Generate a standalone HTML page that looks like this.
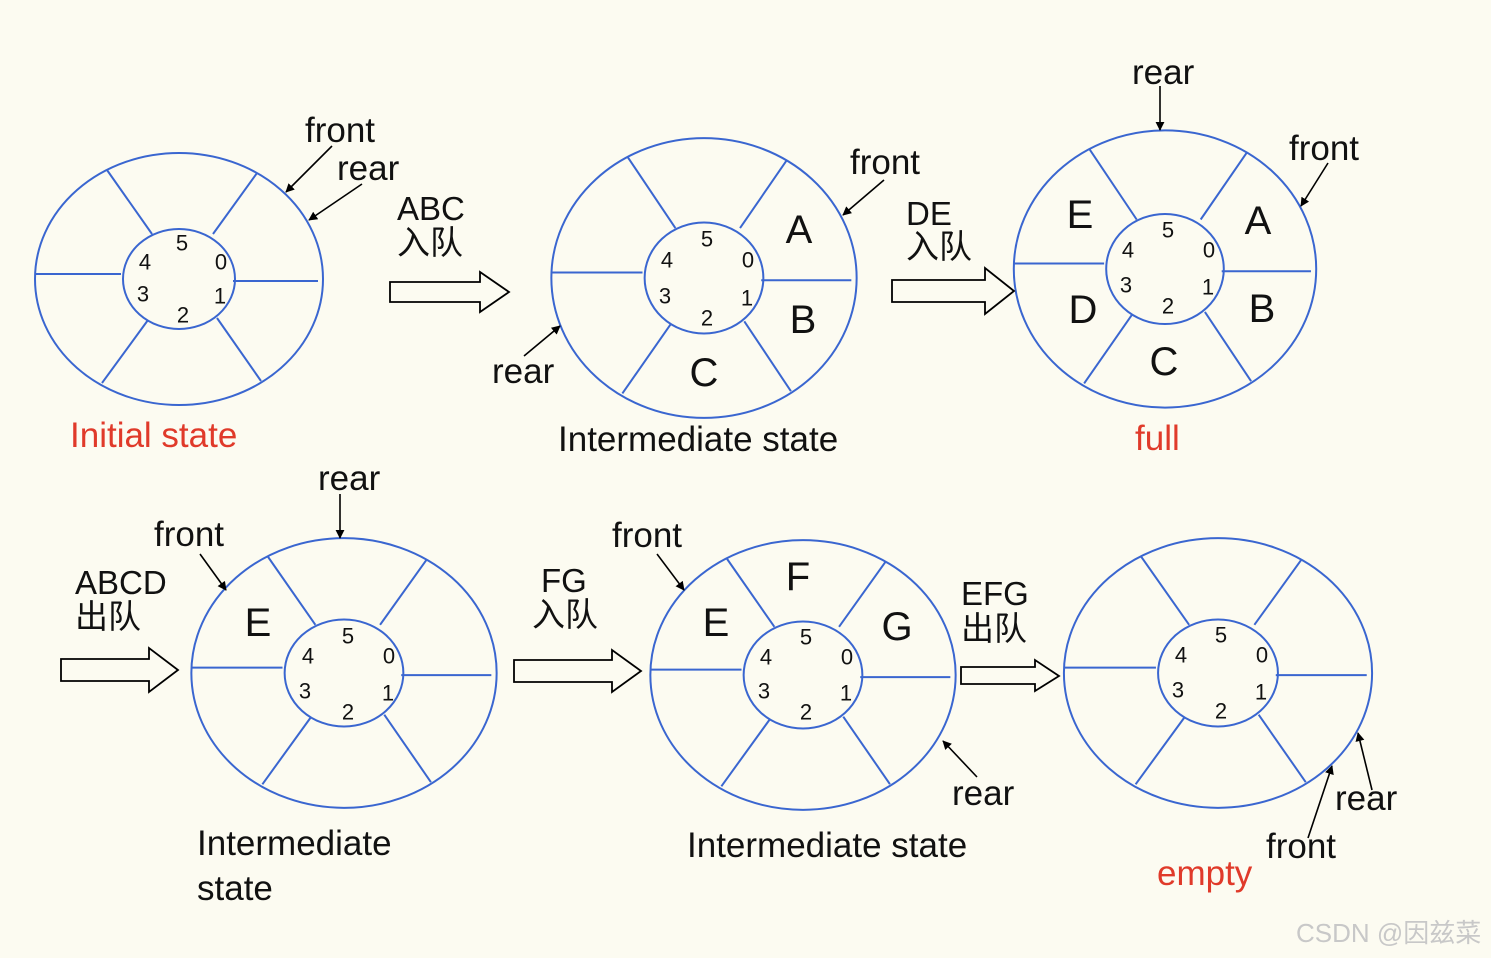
<!DOCTYPE html>
<html><head><meta charset="utf-8"><style>
html,body{margin:0;padding:0;background:#fcfbf1;}
svg{display:block;}
text{font-family:"Liberation Sans","Noto Sans CJK SC",sans-serif;fill:#111;}
.n{font-size:22px;text-anchor:middle;dominant-baseline:central;}
.L{font-size:40px;text-anchor:middle;dominant-baseline:central;}
.t{font-size:35px;}
.c{font-size:33px;}
.red{fill:#e03a2a;}
</style></head><body>
<svg width="1491" height="958" viewBox="0 0 1491 958" xmlns="http://www.w3.org/2000/svg">
<defs>
<marker id="ah" viewBox="0 0 10 10" refX="9" refY="5" markerWidth="9" markerHeight="9" markerUnits="userSpaceOnUse" orient="auto"><path d="M0,0 L10,5 L0,10 z" fill="#000"/></marker>
<g id="ring" fill="none" stroke="#3a66d0" stroke-width="2">
<ellipse cx="0" cy="0" rx="144" ry="126" vector-effect="non-scaling-stroke"/>
<ellipse cx="0" cy="0" rx="56" ry="50" vector-effect="non-scaling-stroke"/>
<line x1="-144" y1="-5" x2="-58" y2="-5" vector-effect="non-scaling-stroke"/>
<line x1="54" y1="2" x2="139" y2="2" vector-effect="non-scaling-stroke"/>
<line x1="-72" y1="-109" x2="-27" y2="-45" vector-effect="non-scaling-stroke"/>
<line x1="78" y1="-106" x2="34" y2="-45" vector-effect="non-scaling-stroke"/>
<line x1="-77" y1="104" x2="-31" y2="41" vector-effect="non-scaling-stroke"/>
<line x1="82" y1="102" x2="38" y2="39" vector-effect="non-scaling-stroke"/>
</g>
</defs>
<rect width="1491" height="958" fill="#fcfbf1"/>

<!-- rings -->
<use href="#ring" transform="translate(179,279)"/>
<use href="#ring" transform="translate(704,278) scale(1.06,1.11)"/>
<use href="#ring" transform="translate(1165,269) scale(1.05,1.1)"/>
<use href="#ring" transform="translate(344,673) scale(1.06,1.07)"/>
<use href="#ring" transform="translate(803,675) scale(1.06,1.07)"/>
<use href="#ring" transform="translate(1218,673) scale(1.07,1.07)"/>

<!-- numbers -->
<g class="n">
<text class="n" x="182" y="243">5</text><text class="n" x="221" y="262">0</text><text class="n" x="145" y="262">4</text><text class="n" x="143" y="294">3</text><text class="n" x="220" y="296">1</text><text class="n" x="183" y="315">2</text>
<text class="n" x="707" y="239">5</text><text class="n" x="748" y="260">0</text><text class="n" x="667" y="260">4</text><text class="n" x="665" y="296">3</text><text class="n" x="747" y="298">1</text><text class="n" x="707" y="318">2</text>
<text class="n" x="1168" y="230">5</text><text class="n" x="1209" y="250">0</text><text class="n" x="1128" y="250">4</text><text class="n" x="1126" y="285">3</text><text class="n" x="1208" y="287">1</text><text class="n" x="1168" y="306">2</text>
<text class="n" x="348" y="636">5</text><text class="n" x="389" y="656">0</text><text class="n" x="308" y="656">4</text><text class="n" x="305" y="691">3</text><text class="n" x="388" y="693">1</text><text class="n" x="348" y="712">2</text>
<text class="n" x="806" y="637">5</text><text class="n" x="847" y="657">0</text><text class="n" x="766" y="657">4</text><text class="n" x="764" y="691">3</text><text class="n" x="846" y="693">1</text><text class="n" x="806" y="712">2</text>
<text class="n" x="1221" y="635">5</text><text class="n" x="1262" y="655">0</text><text class="n" x="1181" y="655">4</text><text class="n" x="1178" y="690">3</text><text class="n" x="1261" y="692">1</text><text class="n" x="1221" y="711">2</text>
</g>

<!-- letters -->
<text class="L" x="799" y="230">A</text><text class="L" x="803" y="320">B</text><text class="L" x="704" y="373">C</text>
<text class="L" x="1080" y="215">E</text><text class="L" x="1258" y="221">A</text><text class="L" x="1083" y="310">D</text><text class="L" x="1262" y="309">B</text><text class="L" x="1164" y="362">C</text>
<text class="L" x="258" y="623">E</text>
<text class="L" x="716" y="623">E</text><text class="L" x="798" y="577">F</text><text class="L" x="897" y="627">G</text>

<!-- pointer arrows -->
<g stroke="#000" stroke-width="1.6" marker-end="url(#ah)">
<line x1="332" y1="146" x2="286" y2="192"/>
<line x1="362" y1="184" x2="309" y2="220"/>
<line x1="884" y1="180" x2="843" y2="215"/>
<line x1="524" y1="356" x2="560" y2="326"/>
<line x1="1160" y1="86" x2="1160" y2="130"/>
<line x1="1328" y1="163" x2="1301" y2="206"/>
<line x1="340" y1="494" x2="340" y2="538"/>
<line x1="200" y1="554" x2="226" y2="590"/>
<line x1="657" y1="554" x2="684" y2="590"/>
<line x1="977" y1="777" x2="943" y2="741"/>
<line x1="1372" y1="790" x2="1358" y2="733"/>
<line x1="1308" y1="838" x2="1332" y2="766"/>
</g>

<!-- hollow arrows -->
<g fill="none" stroke="#000" stroke-width="1.8">
<path d="M390,282 H480 V272 L509,292 L480,312 V302 H390 Z"/>
<path d="M892,280 H985 V268 L1014,291 L985,314 V302 H892 Z"/>
<path d="M61,659 H149 V648 L178,670 L149,692 V681 H61 Z"/>
<path d="M514,660 H612 V650 L641,671 L612,692 V682 H514 Z"/>
<path d="M961,667 H1035 V660 L1059,676 L1035,691 V684 H961 Z"/>
</g>

<!-- labels -->
<text class="t" x="305" y="142">front</text>
<text class="t" x="337" y="180">rear</text>
<text class="c" x="397" y="220">ABC</text><text class="c" x="397" y="254">入队</text>
<text class="t" x="850" y="174">front</text>
<text class="t" x="492" y="383">rear</text>
<text class="t" x="558" y="451">Intermediate state</text>
<text class="c" x="906" y="225">DE</text><text class="c" x="906" y="258">入队</text>
<text class="t" x="1132" y="84">rear</text>
<text class="t" x="1289" y="160">front</text>
<text class="t red" x="1135" y="450">full</text>
<text class="t red" x="70" y="447">Initial state</text>

<text class="t" x="318" y="490">rear</text>
<text class="t" x="154" y="546">front</text>
<text class="c" x="75" y="594">ABCD</text><text class="c" x="75" y="628">出队</text>
<text class="t" x="197" y="855">Intermediate</text>
<text class="t" x="197" y="900">state</text>
<text class="c" x="541" y="592">FG</text><text class="c" x="532" y="626">入队</text>
<text class="t" x="612" y="547">front</text>
<text class="t" x="952" y="805">rear</text>
<text class="t" x="687" y="857">Intermediate state</text>
<text class="c" x="961" y="605">EFG</text><text class="c" x="961" y="640">出队</text>
<text class="t" x="1335" y="810">rear</text>
<text class="t" x="1266" y="858">front</text>
<text class="t red" x="1157" y="885">empty</text>
<text x="1296" y="942" style="font-size:26px;fill:#c8c8c8;">CSDN @因兹菜</text>
</svg>
</body></html>
